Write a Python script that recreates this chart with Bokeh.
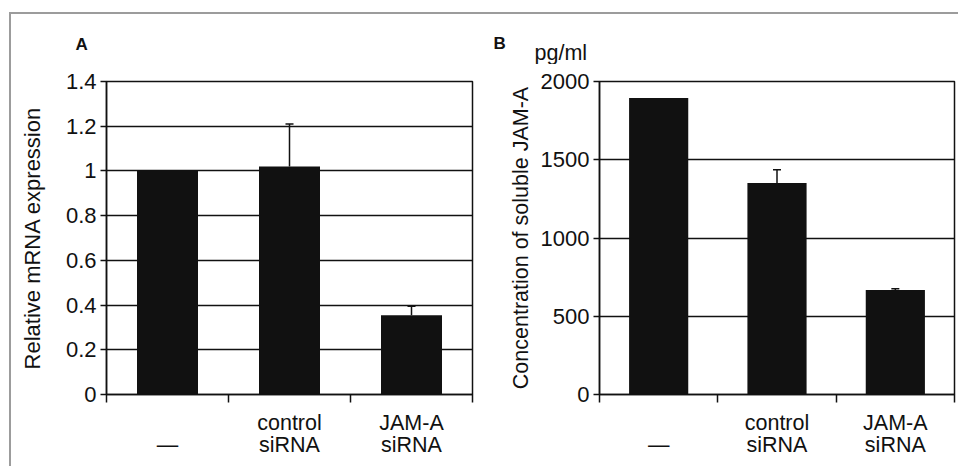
from bokeh.plotting import figure
from bokeh.models import Range1d, FixedTicker, Whisker, TeeHead, ColumnDataSource
from bokeh.core.properties import value
from bokeh.layouts import row, column
from bokeh.embed import file_html
from bokeh.resources import INLINE

# ---- data ----
categories = ["—", "control siRNA", "JAM-A siRNA"]
x_tick_labels = ["\n—", "control\nsiRNA", "JAM-A\nsiRNA"]

a_values = [1.0, 1.02, 0.355]
a_err = [0.0, 0.19, 0.04]
a_ticks = [0, 0.2, 0.4, 0.6, 0.8, 1.0, 1.2, 1.4]
a_tick_labels = ["0", "0.2", "0.4", "0.6", "0.8", "1", "1.2", "1.4"]

b_values = [1895, 1352, 668]
b_err = [0, 84, 8]
b_ticks = [0, 500, 1000, 1500, 2000]
b_tick_labels = ["0", "500", "1000", "1500", "2000"]

panel_letters = ["A", "B"]
b_unit = "pg/ml"

FONT = "Liberation Sans"
INK = "#111111"
HEADER_H = 50


def make_panel(width, height, borders, values, errs, ymax, ticks, tick_labels,
               ylabel, ylabel_size, ylabel_standoff):
    n = len(categories)
    centers = [i + 0.5 for i in range(n)]
    left, right, top, bottom = borders
    p = figure(width=width, height=height, x_range=Range1d(0, n),
               y_range=Range1d(0, ymax), output_backend="svg",
               toolbar_location=None, min_border_left=left,
               min_border_right=right, min_border_top=top,
               min_border_bottom=bottom)
    p.background_fill_color = "white"
    p.border_fill_color = "white"
    p.outline_line_color = INK
    p.outline_line_width = 1.5

    p.vbar(x=centers, top=values, width=0.5, bottom=0,
           fill_color=INK, line_color=None)

    idx = [i for i in range(n) if errs[i] > 0]
    src = ColumnDataSource(data=dict(
        base=[centers[i] for i in idx],
        lower=[values[i] for i in idx],
        upper=[values[i] + errs[i] for i in idx]))
    w = Whisker(base="base", lower="lower", upper="upper", source=src,
                lower_head=None,
                upper_head=TeeHead(size=8, line_color=INK, line_width=1.5),
                line_color=INK, line_width=1.5, level="overlay")
    p.add_layout(w)

    # x axis
    xa = p.xaxis[0]
    xa.ticker = FixedTicker(ticks=centers, minor_ticks=list(range(n + 1)))
    xa.major_label_overrides = {c: lab for c, lab in zip(centers, x_tick_labels)}
    xa.major_tick_line_color = None
    xa.major_tick_out = 0
    xa.major_tick_in = 0
    xa.minor_tick_line_color = INK
    xa.minor_tick_line_width = 1.5
    xa.minor_tick_out = 8
    xa.minor_tick_in = 0
    xa.axis_line_color = INK
    xa.axis_line_width = 1.5
    xa.major_label_text_font = FONT
    xa.major_label_text_font_size = "21.5px"
    xa.major_label_text_color = INK
    xa.major_label_text_line_height = 0.92
    xa.major_label_standoff = 8

    # y axis
    ya = p.yaxis[0]
    ya.ticker = FixedTicker(ticks=ticks, minor_ticks=[])
    ya.major_label_overrides = {t: lab for t, lab in zip(ticks, tick_labels)}
    ya.major_tick_line_color = INK
    ya.major_tick_line_width = 1.5
    ya.major_tick_out = 6
    ya.major_tick_in = 0
    ya.minor_tick_line_color = None
    ya.axis_line_color = INK
    ya.axis_line_width = 1.5
    ya.major_label_text_font = FONT
    ya.major_label_text_font_size = "22px"
    ya.major_label_text_color = INK
    ya.major_label_standoff = 4
    ya.axis_label = ylabel
    ya.axis_label_text_font = FONT
    ya.axis_label_text_font_size = ylabel_size
    ya.axis_label_text_font_style = "normal"
    ya.axis_label_text_color = INK
    ya.axis_label_standoff = ylabel_standoff

    p.xgrid.visible = False
    p.ygrid[0].ticker = FixedTicker(ticks=ticks, minor_ticks=[])
    p.ygrid.grid_line_color = INK
    p.ygrid.grid_line_width = 1.5
    return p


# header strip holding the panel letters and the unit label (pixel-like coords)
header = figure(width=947, height=HEADER_H, x_range=Range1d(0, 947),
                y_range=Range1d(0, HEADER_H), output_backend="svg",
                toolbar_location=None, x_axis_type=None, y_axis_type=None,
                min_border=0)
header.outline_line_color = None
header.background_fill_color = "white"
header.border_fill_color = "white"
header.grid.visible = False
header.text(x=[64, 482], y=[20.5, 20.8], text=panel_letters,
            text_font=value(FONT), text_font_style="bold",
            text_font_size="17px", text_color=INK,
            text_baseline="alphabetic", text_align="left")
header.text(x=[523], y=[11.7], text=[b_unit], text_font=value(FONT),
            text_font_size="21.5px", text_color=INK,
            text_baseline="alphabetic", text_align="left")

plot_h = 452 - HEADER_H
top_b = 67 - HEADER_H
pA = make_panel(469, plot_h, (95, 8, top_b, 72), a_values, a_err, 1.4, a_ticks,
                a_tick_labels, "Relative mRNA expression", "22px", 18)
pB = make_panel(478, plot_h, (119, 4, top_b, 69), b_values, b_err, 2000, b_ticks,
                b_tick_labels, "Concentration of soluble JAM-A", "21.5px", 5)

layout = column(header, row(pA, pB),
                styles={"border-top": "2px solid #9c9c9c",
                        "border-left": "2px solid #9c9c9c",
                        "margin-top": "12px", "margin-left": "9px"})

open("out.html", "w").write(file_html(layout, INLINE))
